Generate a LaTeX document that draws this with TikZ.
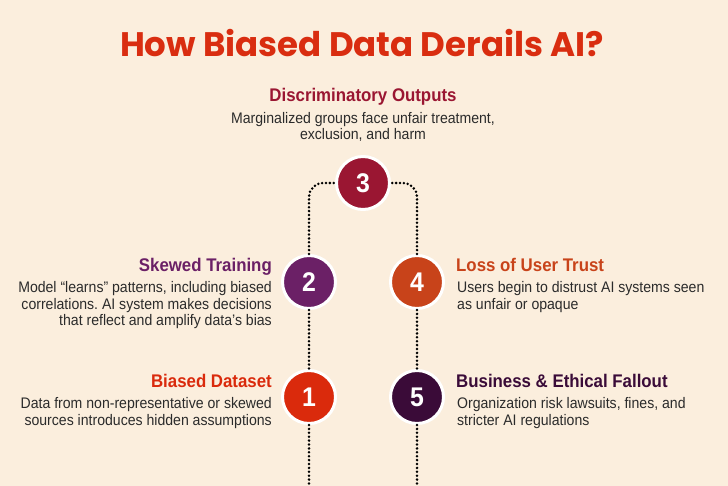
\documentclass[tikz,border=0pt]{standalone}
\usepackage{fontspec}
\setmainfont{Liberation Sans}[FakeStretch=0.92]
\newfontfamily\titlefont{Poppins}
\frenchspacing
\definecolor{bg}{HTML}{FBEEDD}
\definecolor{titlec}{HTML}{D92D10}
\definecolor{cthree}{HTML}{9A1632}
\definecolor{ctwo}{HTML}{6B2066}
\definecolor{cfour}{HTML}{C8431A}
\definecolor{cone}{HTML}{DA2A0C}
\definecolor{cfive}{HTML}{3A0B38}
\definecolor{bodyc}{HTML}{2B2B2B}
\tikzset{
  numcirc/.style={circle, fill=#1, draw=white, line width=3pt, minimum size=53pt, inner sep=0pt,
    text=white, font=\fontsize{27}{27}\selectfont\bfseries},
  dotline/.style={line width=2.8pt, line cap=round, dash pattern=on 0pt off 3.9pt, black},
  headl/.style={anchor=base east, inner sep=0pt, font=\fontsize{18.3}{20}\selectfont\bfseries},
  headr/.style={anchor=base west, inner sep=0pt, font=\fontsize{18.3}{20}\selectfont\bfseries},
  bodyl/.style={anchor=north east, inner sep=0pt, align=right, text=bodyc, font=\fontsize{15.3}{16.5}\selectfont},
  bodyr/.style={anchor=north west, inner sep=0pt, align=left, text=bodyc, font=\fontsize{15.3}{16.5}\selectfont},
  bodyc/.style={anchor=north, inner sep=0pt, align=center, text=bodyc, font=\fontsize{15.3}{15.8}\selectfont},
}
\begin{document}
\begin{tikzpicture}[x=1pt,y=-1pt]
\fill[bg] (0,0) rectangle (728,486);
\useasboundingbox (0,0) rectangle (728,486);
\coordinate (b1) at (309,486);
\coordinate (b5) at (417,486);
\node[numcirc=cthree] (c3) at (363,183) {3};
\node[numcirc=ctwo] (c2) at (309,282) {2};
\node[numcirc=cfour] (c4) at (417,282) {4};
\node[numcirc=cone] (c1) at (309,397) {1};
\node[numcirc=cfive] (c5) at (417,397) {5};
% dotted connectors
\draw[dotline, rounded corners=14pt] (c2.north) |- (c3.west);
\draw[dotline, rounded corners=14pt] (c4.north) |- (c3.east);
\draw[dotline] (c2.south) -- (c1.north);
\draw[dotline] (c4.south) -- (c5.north);
\draw[dotline] (c1.south) -- (b1);
\draw[dotline] (c5.south) -- (b5);
% title
\node[anchor=base, inner sep=0pt, text=titlec, font=\titlefont\fontsize{34}{36}\selectfont\bfseries] (title) at (362,57) {How Biased Data Derails AI?};
% top
\node[anchor=base, inner sep=0pt, text=cthree, font=\fontsize{18.3}{20}\selectfont\bfseries] (h3) at (363,102) {Discriminatory Outputs};
\node[bodyc] (t3) at (363,112) {Marginalized groups face unfair treatment,\\exclusion, and harm};
% left
\node[headl, text=ctwo] (h2) at (272,272) {Skewed Training};
\node[bodyl] (t2) at (272,281.5) {Model “learns” patterns, including biased\\correlations. AI system makes decisions\\that reflect and amplify data’s bias};
\node[headl, text=cone] (h1) at (272,387) {Biased Dataset};
\node[bodyl] (t1) at (272,397.5) {Data from non-representative or skewed\\sources introduces hidden assumptions};
% right
\node[headr, text=cfour] (h4) at (456,272) {Loss of User Trust};
\node[bodyr] (t4) at (457,281.5) {Users begin to distrust AI systems seen\\as unfair or opaque};
\node[headr, text=cfive] (h5) at (456,387) {Business \& Ethical Fallout};
\node[bodyr] (t5) at (457,397.5) {Organization risk lawsuits, fines, and\\stricter AI regulations};
\end{tikzpicture}
\end{document}
